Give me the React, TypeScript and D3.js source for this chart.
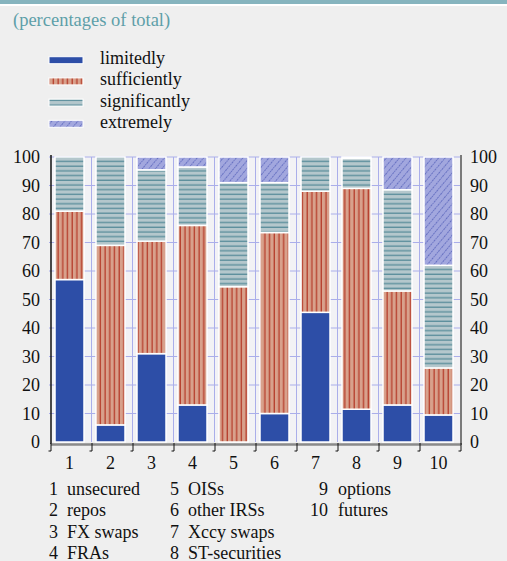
import React from "react";
import * as d3 from "d3";

const categories = ["1", "2", "3", "4", "5", "6", "7", "8", "9", "10"];
const limitedly = [57, 6, 31, 13, 0, 10, 45.5, 11.5, 13, 9.5];
const sufficiently = [24, 63, 39.5, 63, 54.5, 63.5, 42.5, 77.5, 40, 16.5];
const significantly = [19, 31, 25, 20.5, 36.5, 17.5, 12, 10.5, 35.5, 36];
const extremely = [0, 0, 4.5, 3.5, 9, 9, 0, 0.5, 11.5, 38];
const seriesNames = ["limitedly", "sufficiently", "significantly", "extremely"];
const yTicks = [0, 10, 20, 30, 40, 50, 60, 70, 80, 90, 100];
const categoryNames = [
  "unsecured", "repos", "FX swaps", "FRAs", "OISs",
  "other IRSs", "Xccy swaps", "ST-securities", "options", "futures",
];
const title = "(percentages of total)";

const W = 507, H = 561;
const FONT = "Liberation Serif, Times New Roman, Times, DejaVu Serif, serif";
const PL = 51, PR = 461, PT = 157, PB = 442;
const INK = "#111";

const fills = ["#2d4ea7", "url(#p-suff)", "url(#p-sig)", "url(#p-ext)"];

export default function App() {
  const rows = categories.map((c, i) => ({
    cat: c,
    limitedly: limitedly[i],
    sufficiently: sufficiently[i],
    significantly: significantly[i],
    extremely: extremely[i],
  }));
  const stack = d3.stack<any>().keys(seriesNames)(rows);
  const x = d3.scaleBand<string>().domain(categories).range([PL, PR]).padding(0);
  const y = d3.scaleLinear().domain([0, 100]).range([PB, PT]);
  const step = x.step();
  const barOff = 4, barW = 29;
  const txt = { fontFamily: FONT } as React.CSSProperties;

  return (
    <svg width={W} height={H} style={{ position: "absolute", left: 0, top: 0, background: "#efefef", fontFamily: FONT }}>
      <defs>
        <pattern id="p-suff" patternUnits="userSpaceOnUse" width={4.7} height={10} x={0.5}>
          <rect width={4.7} height={10} fill="#d8a18c" />
          <line x1={1.2} x2={1.2} y1={0} y2={10} stroke="#b63d2b" strokeWidth={1.3} />
        </pattern>
        <pattern id="p-sig" patternUnits="userSpaceOnUse" width={10} height={4.7} y={0.5}>
          <rect width={10} height={4.7} fill="#b4c7cc" />
          <line x1={0} x2={10} y1={1.2} y2={1.2} stroke="#5e909d" strokeWidth={1.4} />
        </pattern>
        <pattern id="p-ext" patternUnits="userSpaceOnUse" width={5} height={5} patternTransform="rotate(40)">
          <rect width={5} height={5} fill="#a2a7de" />
          <line x1={2.5} x2={2.5} y1={0} y2={5} stroke="#5863bb" strokeWidth={0.8} strokeDasharray="1.3 0.7" />
        </pattern>
      </defs>

      <rect x={0} y={0} width={W} height={4} fill="#86b4be" />
      <rect x={0} y={4} width={W} height={2} fill="#ffffff" />

      <text x={13} y={26} fontSize={18.5} fill="#5e9fa9" style={txt}>{title}</text>

      {seriesNames.map((s, i) => (
        <g key={s}>
          <rect x={49} y={56.7 + i * 21.2} width={34} height={7} fill={fills[i]} stroke="#fff" strokeWidth={1} />
          <text x={100} y={64 + i * 21.3} fontSize={18} fill={INK} style={txt}>{s}</text>
        </g>
      ))}

      <rect x={PL} y={PT} width={PR - PL} height={PB - PT} fill="#f2f2f5" />

      {yTicks.filter(t => t > 0).map(t => (
        <line key={"h" + t} x1={PL - 2} x2={PR} y1={y(t)} y2={y(t)} stroke="#aaaeea" strokeWidth={1} />
      ))}
      {categories.slice(1).map(c => (
        <line key={"v" + c} x1={(x(c) as number) - 0.5} x2={(x(c) as number) - 0.5} y1={PT} y2={PB}
          stroke="#aaaeea" strokeWidth={1} />
      ))}

      {stack.map((layer, si) => (
        <g key={layer.key}>
          {layer.map((d, i) => {
            const h = y(d[0]) - y(d[1]);
            if (h <= 0) return null;
            return (
              <rect key={i} x={(x(categories[i]) as number) + barOff} y={y(d[1])} width={barW} height={h}
                fill={fills[si]} stroke="#ffffff" strokeWidth={1.5} />
            );
          })}
        </g>
      ))}

      <line x1={PL} x2={PL} y1={PT - 2} y2={PB + 2} stroke="#111" strokeWidth={1.5} />
      <line x1={PR} x2={PR} y1={PT - 2} y2={PB + 3} stroke="#7a7a7a" strokeWidth={2} />
      <line x1={PL} x2={PR} y1={PB + 2.5} y2={PB + 2.5} stroke="#8a8a8a" strokeWidth={2.5} />
      {d3.range(categories.length + 1).map(k => {
        const xx = PL + k * step;
        return (
          <path key={"t" + k} d={`M${xx},${PB + 1} V${PB + 9} H${xx - 2.5}`} fill="none" stroke="#111" strokeWidth={1} />
        );
      })}

      {yTicks.map(t => (
        <g key={"yl" + t}>
          <text x={40} y={y(t) + 6} fontSize={18} textAnchor="end" fill={INK} style={txt}>{t}</text>
          <text x={470} y={y(t) + 6} fontSize={18} textAnchor="start" fill={INK} style={txt}>{t}</text>
        </g>
      ))}

      {categories.map(c => (
        <text key={"xl" + c} x={(x(c) as number) + barOff + barW / 2} y={469} fontSize={18} textAnchor="middle" fill={INK} style={txt}>{c}</text>
      ))}

      {categoryNames.map((n, i) => {
        const col = i < 4 ? 0 : i < 8 ? 1 : 2;
        const row = i % 4;
        const numX = [58, 179, 328][col];
        const nameX = [67, 188, 338][col];
        const by = 495 + row * 21.3;
        return (
          <g key={"f" + i}>
            <text x={numX} y={by} fontSize={18} textAnchor="end" fill={INK} style={txt}>{categories[i]}</text>
            <text x={nameX} y={by} fontSize={18} fill={INK} style={txt}>{n}</text>
          </g>
        );
      })}
    </svg>
  );
}
